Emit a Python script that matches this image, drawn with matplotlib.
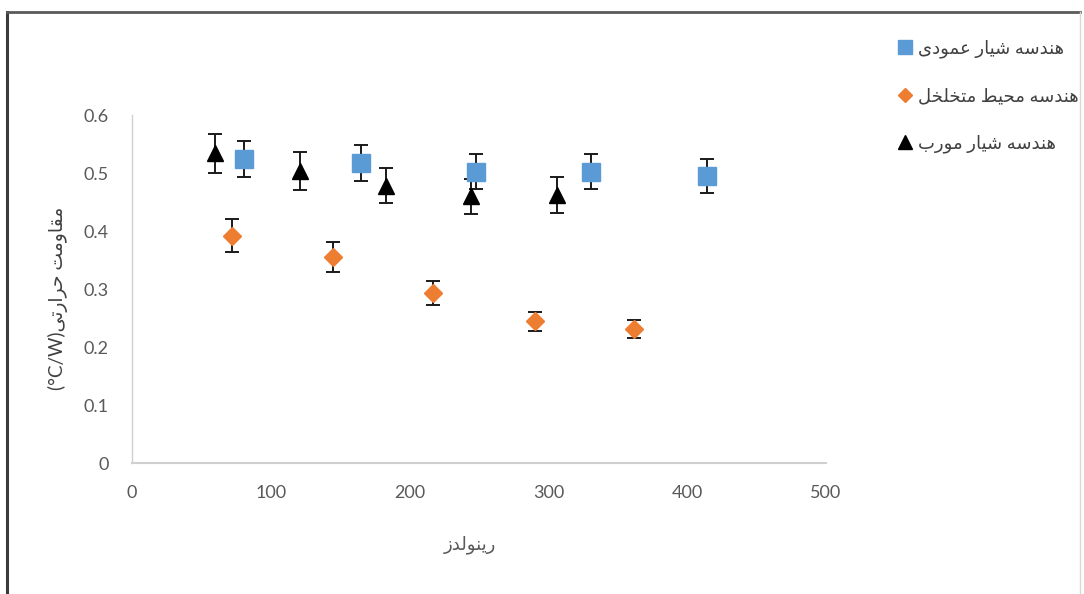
import matplotlib
matplotlib.use("Agg")
import matplotlib.pyplot as plt
from matplotlib.lines import Line2D

plt.rcParams['font.family'] = ['Lato', 'DejaVu Sans']

# ---- data ----
reynolds_vertical = [81, 165, 248, 331, 414]
resist_vertical = [0.524, 0.517, 0.502, 0.502, 0.495]
err_vertical = [0.031, 0.031, 0.030, 0.030, 0.030]

reynolds_porous = [72, 145, 217, 290, 362]
resist_porous = [0.392, 0.355, 0.293, 0.244, 0.231]
err_porous = [0.028, 0.026, 0.021, 0.017, 0.016]

reynolds_oblique = [60, 121, 183, 244, 306]
resist_oblique = [0.534, 0.503, 0.478, 0.460, 0.462]
err_oblique = [0.034, 0.033, 0.030, 0.030, 0.031]

label_vertical = "هندسه شیار عمودی"
label_porous = "هندسه محیط متخلخل"
label_oblique = "هندسه شیار مورب"
xlabel_text = "رینولدز"
ylabel_text = "مقاومت حرارتی"
ylabel_unit = "(°C/W)"

x_ticks = [0, 100, 200, 300, 400, 500]
y_ticks = [0, 0.1, 0.2, 0.3, 0.4, 0.5, 0.6]

# ---- Persian shaping (contextual forms + right-to-left ordering) ----
# letter: (isolated, final, initial, medial); two entries -> right-joining only
FORMS = {
    'ا': (0xFE8D, 0xFE8E), 'ب': (0xFE8F, 0xFE90, 0xFE91, 0xFE92),
    'ت': (0xFE95, 0xFE96, 0xFE97, 0xFE98), 'ح': (0xFEA1, 0xFEA2, 0xFEA3, 0xFEA4),
    'خ': (0xFEA5, 0xFEA6, 0xFEA7, 0xFEA8), 'د': (0xFEA9, 0xFEAA),
    'ر': (0xFEAD, 0xFEAE), 'ز': (0xFEAF, 0xFEB0),
    'س': (0xFEB1, 0xFEB2, 0xFEB3, 0xFEB4), 'ش': (0xFEB5, 0xFEB6, 0xFEB7, 0xFEB8),
    'ط': (0xFEC1, 0xFEC2, 0xFEC3, 0xFEC4), 'ع': (0xFEC9, 0xFECA, 0xFECB, 0xFECC),
    'ق': (0xFED5, 0xFED6, 0xFED7, 0xFED8), 'ل': (0xFEDD, 0xFEDE, 0xFEDF, 0xFEE0),
    'م': (0xFEE1, 0xFEE2, 0xFEE3, 0xFEE4), 'ن': (0xFEE5, 0xFEE6, 0xFEE7, 0xFEE8),
    'ه': (0xFEE9, 0xFEEA, 0xFEEB, 0xFEEC), 'و': (0xFEED, 0xFEEE),
    'ی': (0xFBFC, 0xFBFD, 0xFBFE, 0xFBFF),
}


def rtl(text):
    out = []
    n = len(text)
    for i, ch in enumerate(text):
        if ch not in FORMS:
            out.append(ch)
            continue
        prev = text[i - 1] if i > 0 else None
        nxt = text[i + 1] if i < n - 1 else None
        join_prev = prev in FORMS and len(FORMS[prev]) == 4
        join_next = len(FORMS[ch]) == 4 and nxt in FORMS
        f = FORMS[ch]
        if join_prev and join_next:
            code = f[3]
        elif join_prev:
            code = f[1]
        elif join_next:
            code = f[2]
        else:
            code = f[0]
        out.append(chr(code))
    return ''.join(reversed(out))


# ---- figure ----
fig = plt.figure(figsize=(10.84, 5.94), dpi=100)
ax = fig.add_axes([132 / 1084, 1 - 463 / 594, 694 / 1084, 348 / 594])

tick_color = '#595959'
axis_color = '#d0d0d0'

eb_kw = dict(linestyle='none', ecolor='#1a1a1a', elinewidth=1.4,
             capsize=5, capthick=1.4)

ax.errorbar(reynolds_oblique, resist_oblique, yerr=err_oblique, marker='^',
            markersize=12, color='black', zorder=3, **eb_kw)
ax.errorbar(reynolds_vertical, resist_vertical, yerr=err_vertical, marker='s',
            markersize=12.5, color='#5B9BD5', zorder=3, **eb_kw)
ax.errorbar(reynolds_porous, resist_porous, yerr=err_porous, marker='D',
            markersize=9, color='#ED7D31', zorder=3, **eb_kw)

ax.set_xlim(0, 500)
ax.set_ylim(0, 0.6)
ax.set_xticks(x_ticks)
ax.set_yticks(y_ticks)
ax.set_xticklabels([str(v) for v in x_ticks])
ax.set_yticklabels(['0' if v == 0 else f'{v:.1f}' for v in y_ticks])
ax.tick_params(axis='both', length=0, labelsize=13, colors=tick_color)
ax.tick_params(axis='x', pad=16)
ax.tick_params(axis='y', pad=17)

for side in ('top', 'right'):
    ax.spines[side].set_visible(False)
ax.spines['bottom'].set_color(axis_color)
ax.spines['bottom'].set_linewidth(1.5)
ax.spines['left'].set_color(axis_color)
ax.spines['left'].set_linewidth(1.0)

fig.text(470 / 1084, 1 - 545 / 594, rtl(xlabel_text), ha='center', va='center',
         fontsize=13, color=tick_color)
fig.text(58 / 1084, 1 - 298 / 594, ylabel_unit + rtl(ylabel_text), ha='center',
         va='center', rotation=90, fontsize=13.5, color='#404040')

# legend
handles = [
    Line2D([], [], linestyle='none', marker='s', markersize=10.5, color='#5B9BD5'),
    Line2D([], [], linestyle='none', marker='D', markersize=7, color='#ED7D31'),
    Line2D([], [], linestyle='none', marker='^', markersize=10.5, color='black'),
]
labels = [rtl(label_vertical), rtl(label_porous), rtl(label_oblique)]
fig.legend(handles, labels, loc='upper left',
           bbox_to_anchor=(882 / 1084, 1 - 23 / 594), frameon=False,
           fontsize=13, labelcolor='#404040', handlelength=0.8,
           handletextpad=0.3, labelspacing=1.65)

# outer frame
fig.add_artist(Line2D([7 / 1084, 7 / 1084], [0, 1 - 12 / 594], color='#3a3a3a',
                      linewidth=2.2, transform=fig.transFigure))
fig.add_artist(Line2D([7 / 1084, 1080 / 1084], [1 - 12 / 594, 1 - 12 / 594],
                      color='#5a5a5a', linewidth=2.0, transform=fig.transFigure))
fig.add_artist(Line2D([1080 / 1084, 1080 / 1084], [0, 1 - 12 / 594],
                      color='#d8d8d8', linewidth=1.0, transform=fig.transFigure))

fig.savefig('out.png', dpi=100)
